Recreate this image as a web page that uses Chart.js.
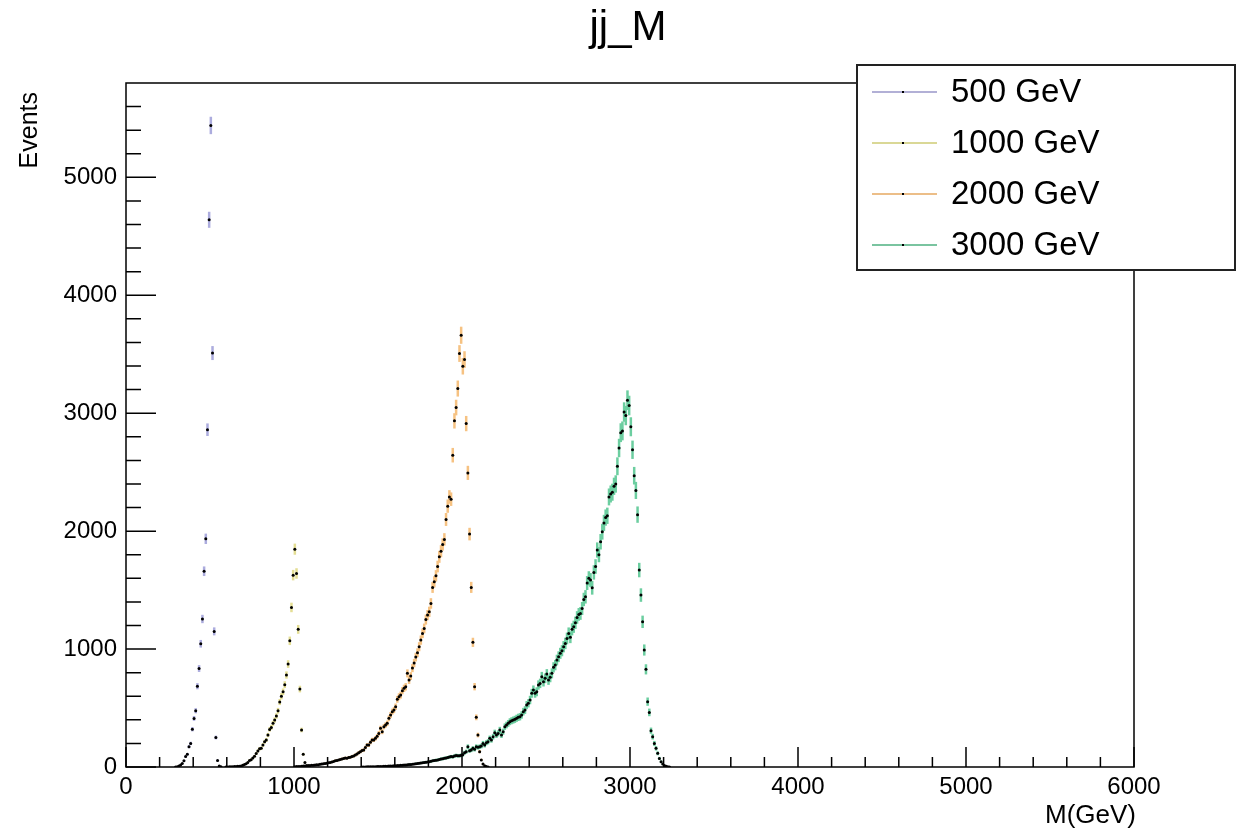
<!DOCTYPE html>
<html>
<head>
<meta charset="utf-8">
<title>jj_M</title>
<script src="https://cdn.jsdelivr.net/npm/chart.js@4.4.1/dist/chart.umd.min.js"></script>
<style>
    html, body { margin: 0; padding: 0; background: #fff; }
    #chart-canvas { display: block; }
</style>
</head>
<body>
<canvas id="chart-canvas" width="1237" height="832"></canvas>
<script>
const TITLE = 'jj_M';
const X_TITLE = 'M(GeV)';
const Y_TITLE = 'Events';
const LABELS = ['500 GeV', '1000 GeV', '2000 GeV', '3000 GeV'];
const X_TICKS = [0, 1000, 2000, 3000, 4000, 5000, 6000];
const Y_TICKS = [0, 1000, 2000, 3000, 4000, 5000];

// histograms, 10 GeV bins, first value is the bin centred on FIRST_BINS[i]
const BIN_WIDTH = 10;
const FIRST_BINS = [295, 595, 1005, 1405];
// event weights make the bars a bit longer than plain sqrt(N)
const ERROR_SCALE = [1.0, 1.1, 1.2, 1.5];

const events500 = [
    1, 3, 8, 16, 30, 52, 88, 108, 172, 200,
    320, 412, 477, 685, 835, 1045, 1255, 1660, 1935, 2860,
    4640, 5440, 3510, 1150, 250, 55, 8, 2
];

const events1000 = [
    1, 1, 2, 2, 3, 4, 5, 6, 7, 8,
    14, 22, 28, 39, 56, 62, 76, 91, 114, 136,
    155, 158, 186, 214, 229, 271, 319, 336, 370, 398,
    432, 477, 551, 600, 638, 698, 780, 873, 1070, 1353,
    1627, 1847, 1641, 1167, 661, 314, 108, 38, 10, 3
];

const events2000 = [
    3, 4, 5, 5, 7, 8, 9, 10, 12, 12,
    14, 15, 17, 19, 20, 23, 25, 28, 30, 32,
    35, 38, 42, 47, 53, 55, 59, 64, 68, 72,
    76, 75, 80, 82, 88, 93, 102, 110, 121, 130,
    140, 144, 165, 186, 186, 210, 229, 230, 243, 260,
    285, 328, 299, 342, 356, 370, 413, 441, 469, 483,
    511, 574, 596, 610, 647, 667, 680, 794, 737, 771,
    839, 881, 932, 969, 1020, 1076, 1133, 1175, 1250, 1288,
    1316, 1387, 1523, 1570, 1621, 1700, 1782, 1830, 1887, 1930,
    2099, 2212, 2290, 2271, 2644, 2935, 3048, 3209, 3506, 3661,
    3398, 3455, 2912, 2494, 1975, 1523, 1057, 681, 421, 271,
    130, 60, 25, 10, 4, 1
];

const events3000 = [
    1, 1, 1, 2, 2, 2, 3, 3, 3, 4,
    4, 5, 5, 6, 6, 7, 8, 8, 9, 10,
    11, 12, 12, 14, 15, 17, 18, 19, 21, 22,
    24, 25, 28, 29, 31, 33, 36, 38, 40, 43,
    45, 48, 52, 55, 58, 60, 64, 68, 70, 74,
    77, 80, 84, 88, 86, 93, 98, 95, 96, 99,
    104, 121, 130, 172, 138, 144, 158, 150, 172, 167,
    172, 178, 200, 186, 206, 214, 243, 229, 257, 291,
    271, 285, 314, 271, 299, 342, 356, 370, 384, 392,
    398, 404, 413, 421, 426, 441, 469, 483, 525, 540,
    568, 625, 653, 625, 638, 695, 709, 765, 723, 752,
    788, 737, 760, 794, 845, 864, 907, 935, 964, 986,
    1020, 1048, 1090, 1133, 1100, 1167, 1189, 1223, 1268, 1294,
    1302, 1344, 1421, 1443, 1560, 1600, 1585, 1520, 1650, 1700,
    1840, 1800, 1910, 1995, 2070, 2115, 2130, 2290, 2315, 2330,
    2380, 2400, 2550, 2705, 2835, 2850, 3010, 2980, 3110, 3065,
    2885, 2690, 2470, 2345, 2140, 1670, 1458, 1231, 992, 828,
    554, 463, 308, 257, 200, 158, 116, 73, 45, 25,
    12, 6, 3, 1
];

const SERIES = [events500, events1000, events2000, events3000];
const ERROR_COLORS = ['rgb(172,172,222)', 'rgb(228,222,148)', 'rgb(246,194,130)', 'rgb(108,206,160)'];
const LEGEND_COLORS = ['rgb(178,176,214)', 'rgb(218,216,150)', 'rgb(236,190,136)', 'rgb(122,196,160)'];

const FONT = '"Liberation Sans", Arial, Helvetica, sans-serif';

function histPoints(first, values) {
    let points = [];
    for (let i = 0; i < values.length; i++) {
        points.push({ x: first + i * BIN_WIDTH, y: values[i] });
    }
    return points;
}

// vertical error bars, drawn under the markers
const errorBarPlugin = {
    id: 'errorBars',
    beforeDatasetsDraw(chart) {
        let ctx = chart.ctx;
        let xScale = chart.scales.x;
        let yScale = chart.scales.y;
        let area = chart.chartArea;
        ctx.save();
        ctx.beginPath();
        ctx.rect(area.left, area.top, area.right - area.left, area.bottom - area.top);
        ctx.clip();
        chart.data.datasets.forEach((ds, i) => {
            ctx.strokeStyle = ERROR_COLORS[i];
            ctx.lineWidth = 2.5;
            ds.data.forEach((p) => {
                let err = Math.sqrt(p.y) * ERROR_SCALE[i];
                let px = xScale.getPixelForValue(p.x);
                ctx.beginPath();
                ctx.moveTo(px, yScale.getPixelForValue(p.y + err));
                ctx.lineTo(px, yScale.getPixelForValue(p.y - err));
                ctx.stroke();
            });
        });
        ctx.restore();
    }
};

// ROOT style frame with ticks pointing inwards
const framePlugin = {
    id: 'rootFrame',
    afterDatasetsDraw(chart) {
        let ctx = chart.ctx;
        let xScale = chart.scales.x;
        let yScale = chart.scales.y;
        let area = chart.chartArea;
        ctx.save();
        ctx.strokeStyle = '#000';
        ctx.lineWidth = 1.5;
        ctx.strokeRect(area.left, area.top, area.right - area.left, area.bottom - area.top);

        ctx.beginPath();
        for (let v = 0; v <= 6000; v += 200) {
            let px = xScale.getPixelForValue(v);
            let len = (v % 1000 === 0) ? 20 : 10;
            ctx.moveTo(px, area.bottom);
            ctx.lineTo(px, area.bottom - len);
        }
        for (let v = 0; v < 5800; v += 200) {
            let py = yScale.getPixelForValue(v);
            let len = (v % 1000 === 0) ? 30 : 15;
            ctx.moveTo(area.left, py);
            ctx.lineTo(area.left + len, py);
        }
        ctx.stroke();
        ctx.restore();
    },
    afterDraw(chart) {
        let ctx = chart.ctx;
        let area = chart.chartArea;
        ctx.save();
        ctx.fillStyle = '#000';

        ctx.font = '42px ' + FONT;
        ctx.textAlign = 'center';
        ctx.textBaseline = 'middle';
        ctx.fillText(TITLE, 628, 28);

        ctx.font = '26px ' + FONT;
        ctx.textAlign = 'right';
        ctx.textBaseline = 'alphabetic';
        ctx.fillText(X_TITLE, area.right + 2, 823);

        ctx.font = '25px ' + FONT;
        ctx.translate(37, area.top + 9);
        ctx.rotate(-Math.PI / 2);
        ctx.textAlign = 'right';
        ctx.fillText(Y_TITLE, 0, 0);
        ctx.restore();

        drawLegend(ctx);
    }
};

function drawLegend(ctx) {
    let left = 857;
    let top = 65;
    let width = 378;
    let height = 205;
    ctx.save();
    ctx.fillStyle = '#fff';
    ctx.fillRect(left, top, width, height);
    ctx.strokeStyle = '#222';
    ctx.lineWidth = 2;
    ctx.strokeRect(left, top, width, height);

    ctx.font = '33px ' + FONT;
    ctx.textAlign = 'left';
    ctx.textBaseline = 'middle';
    for (let i = 0; i < LABELS.length; i++) {
        let y = 92 + i * 51;
        ctx.strokeStyle = LEGEND_COLORS[i];
        ctx.lineWidth = 2;
        ctx.beginPath();
        ctx.moveTo(872, y);
        ctx.lineTo(937, y);
        ctx.stroke();
        ctx.fillStyle = '#000';
        ctx.fillRect(902, y - 1, 2, 2);
        ctx.fillText(LABELS[i], 951, y + 1);
    }
    ctx.restore();
}

function showHistograms(canvas) {
    let datasets = [];
    for (let i = 0; i < SERIES.length; i++) {
        datasets.push({
            label: LABELS[i],
            data: histPoints(FIRST_BINS[i], SERIES[i]),
            showLine: false,
            pointRadius: 1.5,
            pointHoverRadius: 1.5,
            pointBackgroundColor: '#000',
            pointBorderWidth: 0
        });
    }

    const config = {
        type: 'scatter',
        data: { datasets: datasets },
        options: {
            responsive: false,
            animation: false,
            devicePixelRatio: 1,
            layout: { padding: { top: 83, right: 103, left: 0, bottom: 0 } },
            plugins: {
                legend: { display: false },
                title: { display: false },
                tooltip: { enabled: false }
            },
            scales: {
                x: {
                    type: 'linear',
                    min: 0,
                    max: 6000,
                    grid: { display: false, drawTicks: false },
                    border: { display: false },
                    afterBuildTicks: (axis) => { axis.ticks = X_TICKS.map(v => ({ value: v })); },
                    afterFit: (axis) => { axis.height = 65; },
                    ticks: {
                        color: '#000',
                        padding: 6,
                        maxRotation: 0,
                        autoSkip: false,
                        font: { family: FONT, size: 24 },
                        callback: (v) => String(v)
                    }
                },
                y: {
                    type: 'linear',
                    min: 0,
                    max: 5800,
                    grid: { display: false, drawTicks: false },
                    border: { display: false },
                    afterBuildTicks: (axis) => { axis.ticks = Y_TICKS.map(v => ({ value: v })); },
                    afterFit: (axis) => { axis.width = 126; },
                    ticks: {
                        color: '#000',
                        padding: 9,
                        autoSkip: false,
                        font: { family: FONT, size: 24 },
                        callback: (v) => String(v)
                    }
                }
            }
        },
        plugins: [errorBarPlugin, framePlugin]
    };

    return new Chart(canvas, config);
}

showHistograms(document.getElementById('chart-canvas'));
</script>
</body>
</html>
